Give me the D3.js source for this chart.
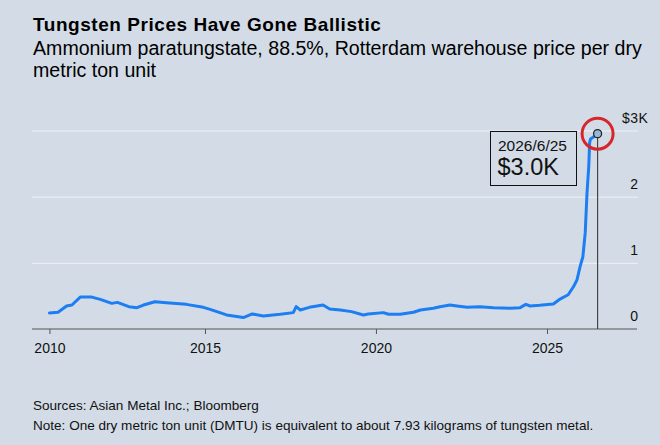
<!DOCTYPE html>
<html>
<head>
<meta charset="utf-8">
<script src="https://cdn.jsdelivr.net/npm/d3@7"></script>
<style>
  body { margin: 0; background: #d3dce6; }
  svg { display: block; font-family: "Liberation Sans", Arial, sans-serif; }
</style>
</head>
<body>
<div id="wrapper"></div>
<script>
// APT price, USD per dry metric ton unit
const dates = [
  "2010-06-15", "2010-09-15", "2010-12-15", "2011-02-10", "2011-05-10", "2011-09-10",
  "2011-12-10", "2012-04-10", "2012-06-10", "2012-10-10", "2013-01-05", "2013-03-15",
  "2013-07-15", "2013-11-15", "2014-06-15", "2014-12-15", "2015-02-25", "2015-08-20",
  "2016-02-15", "2016-05-20", "2016-09-15", "2017-03-15", "2017-08-01", "2017-09-01",
  "2017-10-15", "2018-01-20", "2018-06-15", "2018-08-25", "2018-12-15", "2019-04-15",
  "2019-08-20", "2019-10-10", "2020-03-20", "2020-05-15", "2020-09-15", "2021-02-05",
  "2021-04-20", "2021-09-05", "2021-11-15", "2022-03-01", "2022-05-15", "2022-09-01",
  "2023-01-15", "2023-06-10", "2023-12-05", "2024-03-20", "2024-05-20", "2024-07-05",
  "2024-10-15", "2025-03-10", "2025-05-20", "2025-08-15", "2025-10-12", "2025-11-17",
  "2025-12-20", "2026-01-19", "2026-02-13", "2026-03-04", "2026-03-23", "2026-04-01",
  "2026-04-10", "2026-05-12", "2026-06-25"
]
const prices = [
  250, 260, 355, 370, 490, 490,
  455, 395, 410, 345, 330, 370,
  420, 405, 380, 335, 305, 220,
  180, 235, 205, 230, 255, 345,
  295, 335, 370, 310, 295, 270,
  220, 235, 255, 230, 230, 260,
  295, 320, 345, 370, 355, 335,
  345, 330, 320, 330, 380, 355,
  365, 385, 460, 525, 650, 750,
  950, 1100, 1460, 2060, 2470, 2820,
  2880, 2910, 2960
]
const xTickYears = [2015, 2020, 2025]
const yTicks = [0, 1000, 2000, 3000]

const title = "Tungsten Prices Have Gone Ballistic"
const subtitle = [
  "Ammonium paratungstate, 88.5%, Rotterdam warehouse price per dry",
  "metric ton unit"
]
const footnotes = [
  "Sources: Asian Metal Inc.; Bloomberg",
  "Note: One dry metric ton unit (DMTU) is equivalent to about 7.93 kilograms of tungsten metal."
]

function drawChart() {
  // 1. Access data
  const parse = d3.timeParse("%Y-%m-%d")
  const data = dates.map((d, i) => ({ date: parse(d), price: prices[i] }))
  const xAccessor = d => d.date
  const yAccessor = d => d.price

  // 2. Dimensions
  const dims = {
    width: 660,
    height: 445,
    plotLeft: 34,
    plotRight: 637,
    plotTop: 131,
    plotBottom: 329.5
  }

  // 3. Canvas
  const svg = d3.select("#wrapper")
    .append("svg")
      .attr("width", dims.width)
      .attr("height", dims.height)

  svg.append("rect")
      .attr("width", dims.width)
      .attr("height", dims.height)
      .attr("fill", "#d3dce6")

  // 4. Scales
  const xScale = d3.scaleTime()
    .domain([new Date(2010, 0, 1), new Date(2027, 7, 20)])
    .range([dims.plotLeft, dims.plotRight])

  const yScale = d3.scaleLinear()
    .domain([0, 3000])
    .range([dims.plotBottom, dims.plotTop])

  // 5. Peripherals: title block
  svg.append("text")
      .attr("x", 33)
      .attr("y", 30.5)
      .attr("font-size", 19)
      .attr("font-weight", "bold")
      .attr("letter-spacing", 0.55)
      .attr("fill", "#000")
      .text(title)

  svg.selectAll(".subtitle")
    .data(subtitle)
    .enter().append("text")
      .attr("class", "subtitle")
      .attr("x", 33)
      .attr("y", (d, i) => 55 + i * 22)
      .attr("font-size", 19.6)
      .attr("fill", "#000")
      .text(d => d)

  // gridlines
  svg.selectAll(".grid")
    .data(yTicks.filter(d => d > 0))
    .enter().append("line")
      .attr("class", "grid")
      .attr("x1", 32)
      .attr("x2", 638)
      .attr("y1", d => yScale(d))
      .attr("y2", d => yScale(d))
      .attr("stroke", "#eef2f6")
      .attr("stroke-width", 1)

  // y labels, above the gridlines, numbers right aligned
  const yLabels = svg.selectAll(".ylabel")
    .data(yTicks)
    .enter().append("g")
      .attr("class", "ylabel")
      .attr("transform", d => `translate(638, ${yScale(d) - 8.5})`)
      .attr("font-size", 14)
      .attr("fill", "#111")

  yLabels.append("text")
      .attr("text-anchor", "end")
      .text(d => d / 1000)

  yLabels.filter(d => d === 3000).each(function () {
    const g = d3.select(this)
    const w = g.select("text").node().getComputedTextLength()
    g.append("text").attr("x", -w - 0.5).attr("text-anchor", "end").text("$")
    g.append("text").attr("x", 0.5).text("K")
  })

  // x axis
  const xAxisGenerator = d3.axisBottom(xScale)
    .tickValues([data[0].date, ...xTickYears.map(y => new Date(y, 0, 1))])
    .tickFormat(d3.timeFormat("%Y"))
    .tickSizeOuter(0)
    .tickSizeInner(5)
    .tickPadding(9)

  const xAxis = svg.append("g")
      .attr("transform", `translate(0, ${dims.plotBottom - 0.5})`)
      .call(xAxisGenerator)

  xAxis.select(".domain")
      .attr("d", `M32,0H${dims.plotRight}`)
      .attr("stroke", "#555")
  xAxis.selectAll(".tick line").attr("stroke", "#555")
  xAxis.selectAll(".tick text")
      .attr("font-size", 14)
      .attr("font-family", "Liberation Sans, Arial, sans-serif")
      .attr("fill", "#111")

  // 6. Draw data
  const lineGenerator = d3.line()
    .x(d => xScale(xAccessor(d)))
    .y(d => yScale(yAccessor(d)))

  const last = data[data.length - 1]
  const lx = xScale(xAccessor(last))
  const ly = yScale(yAccessor(last))

  svg.append("line")
      .attr("x1", lx)
      .attr("x2", lx)
      .attr("y1", ly)
      .attr("y2", dims.plotBottom - 0.5)
      .attr("stroke", "#444")
      .attr("stroke-width", 1.2)

  svg.append("path")
      .datum(data)
      .attr("d", lineGenerator)
      .attr("fill", "none")
      .attr("stroke", "#1c7ef2")
      .attr("stroke-width", 3)
      .attr("stroke-linejoin", "round")
      .attr("stroke-linecap", "round")

  svg.append("circle")
      .attr("cx", lx)
      .attr("cy", ly)
      .attr("r", 4)
      .attr("fill", "#9fb6d0")
      .attr("stroke", "#1d2633")
      .attr("stroke-width", 1.3)

  svg.append("circle")
      .attr("cx", lx)
      .attr("cy", ly)
      .attr("r", 15.5)
      .attr("fill", "none")
      .attr("stroke", "#d7262b")
      .attr("stroke-width", 3)

  // annotation box
  svg.append("rect")
      .attr("x", 490.5)
      .attr("y", 131.5)
      .attr("width", 86)
      .attr("height", 54)
      .attr("fill", "none")
      .attr("stroke", "#111")
      .attr("stroke-width", 1)

  svg.append("text")
      .attr("x", 498)
      .attr("y", 151)
      .attr("font-size", 15.5)
      .attr("fill", "#111")
      .text(d3.timeFormat("%Y/%-m/%-d")(xAccessor(last)))

  svg.append("text")
      .attr("x", 497.5)
      .attr("y", 175)
      .attr("font-size", 23.5)
      .attr("fill", "#111")
      .text("$" + d3.format(".1f")(Math.round(yAccessor(last) / 100) / 10) + "K")

  // footnotes
  svg.selectAll(".foot")
    .data(footnotes)
    .enter().append("text")
      .attr("class", "foot")
      .attr("x", 33)
      .attr("y", (d, i) => 410 + i * 20)
      .attr("font-size", 13.55)
      .attr("fill", "#111")
      .text(d => d)
}
drawChart()
</script>
</body>
</html>
